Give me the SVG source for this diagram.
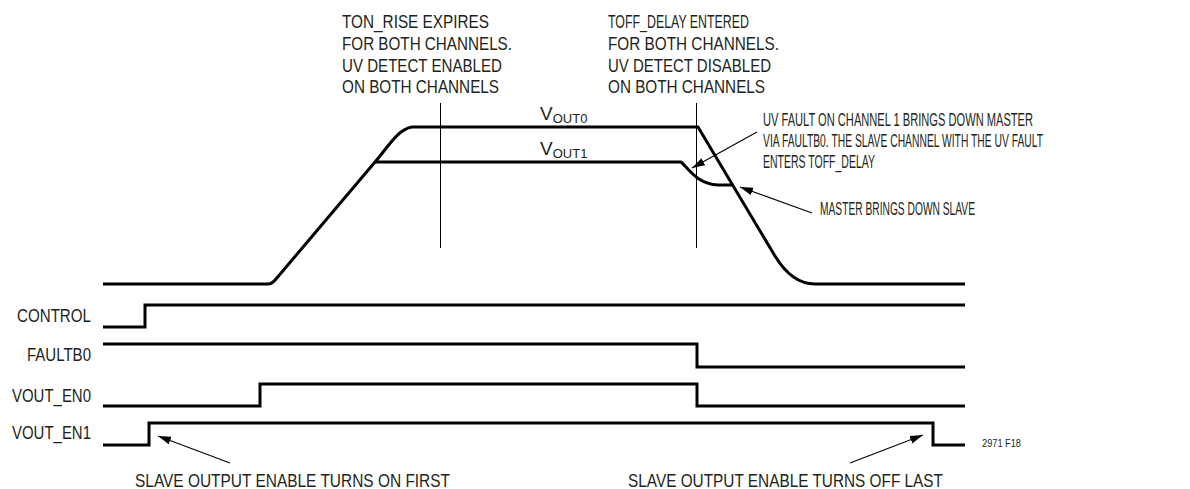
<svg xmlns="http://www.w3.org/2000/svg" width="1190" height="489" viewBox="0 0 1190 489">
<style>
text{font-family:"Liberation Sans",Arial,sans-serif;font-size:18px;fill:#231f20}
.wave{fill:none;stroke:#000;stroke-width:3;stroke-linejoin:miter}
.mark{fill:none;stroke:#000;stroke-width:1}
.arr{fill:none;stroke:#000;stroke-width:1.1;marker-end:url(#ah)}
.lbl{text-anchor:end}
.sub{font-size:13px}
.big{font-size:19px}
.small{font-size:10px}
</style>
<defs>
<marker id="ah" markerUnits="userSpaceOnUse" markerWidth="14" markerHeight="10" refX="13" refY="4" orient="auto">
<path d="M0,0 L13,4 L0,8 Z" fill="#000"/>
</marker>
</defs>
<rect width="1190" height="489" fill="#fff"/>
<g id="connectors">
<line class="mark" x1="440.5" y1="103" x2="440.5" y2="248"/>
<line class="mark" x1="696.5" y1="103" x2="696.5" y2="248"/>
<line class="arr" x1="757" y1="132" x2="692" y2="168"/>
<line class="arr" x1="812" y1="213" x2="740" y2="187"/>
<line class="arr" x1="230" y1="463" x2="158" y2="436"/>
<line class="arr" x1="850" y1="463" x2="923" y2="435"/>
</g>
<g id="vout0">
<path class="wave" d="M103,284 L268,284 Q272,284 276,279 L375,162 C388,147 398,129 412,127 L698,127 L775,256 Q792,284 815,284 L965,284"/>
<text class="big" x="540" y="120">V<tspan class="sub" dy="3">OUT0</tspan></text>
</g>
<g id="vout1">
<path class="wave" d="M375,162 L681,162 C689,169 697,184 718,185 L733,185"/>
<text class="big" x="540" y="155">V<tspan class="sub" dy="3">OUT1</tspan></text>
</g>
<g id="control">
<path class="wave" d="M103,327 L145,327 L145,305 L965,305"/>
<text class="lbl" x="91" y="322" textLength="74" lengthAdjust="spacingAndGlyphs">CONTROL</text>
</g>
<g id="faultb0">
<path class="wave" d="M103,344 L697,344 L697,367 L965,367"/>
<text class="lbl" x="91" y="361" textLength="64" lengthAdjust="spacingAndGlyphs">FAULTB0</text>
</g>
<g id="vout_en0">
<path class="wave" d="M103,406 L260,406 L260,384 L697,384 L697,406 L965,406"/>
<text class="lbl" x="91" y="402" textLength="79" lengthAdjust="spacingAndGlyphs">VOUT_EN0</text>
</g>
<g id="vout_en1">
<path class="wave" d="M103,445 L149,445 L149,423 L933,423 L933,445 L965,445"/>
<text class="lbl" x="91" y="439" textLength="79" lengthAdjust="spacingAndGlyphs">VOUT_EN1</text>
</g>
<g id="note-ton-rise">
<text x="342" y="28" textLength="147" lengthAdjust="spacingAndGlyphs">TON_RISE EXPIRES</text>
<text x="342" y="50" textLength="170" lengthAdjust="spacingAndGlyphs">FOR BOTH CHANNELS.</text>
<text x="342" y="72" textLength="160" lengthAdjust="spacingAndGlyphs">UV DETECT ENABLED</text>
<text x="342" y="93" textLength="157" lengthAdjust="spacingAndGlyphs">ON BOTH CHANNELS</text>
</g>
<g id="note-toff-delay">
<text x="608" y="28" textLength="141" lengthAdjust="spacingAndGlyphs">TOFF_DELAY ENTERED</text>
<text x="608" y="50" textLength="171" lengthAdjust="spacingAndGlyphs">FOR BOTH CHANNELS.</text>
<text x="608" y="72" textLength="163" lengthAdjust="spacingAndGlyphs">UV DETECT DISABLED</text>
<text x="608" y="93" textLength="157" lengthAdjust="spacingAndGlyphs">ON BOTH CHANNELS</text>
</g>
<g id="note-uv-fault" transform="translate(763,0) scale(0.6,1)">
<text x="0" y="126" textLength="450" lengthAdjust="spacingAndGlyphs">UV FAULT ON CHANNEL 1 BRINGS DOWN MASTER</text>
<text x="0" y="147" textLength="466.7" lengthAdjust="spacingAndGlyphs">VIA FAULTB0. THE SLAVE CHANNEL WITH THE UV FAULT</text>
<text x="0" y="168" textLength="186.7" lengthAdjust="spacingAndGlyphs">ENTERS TOFF_DELAY</text>
</g>
<g id="note-master">
<text x="820" y="215" textLength="155" lengthAdjust="spacingAndGlyphs">MASTER BRINGS DOWN SLAVE</text>
</g>
<g id="note-on-first">
<text x="135" y="487" textLength="315" lengthAdjust="spacingAndGlyphs">SLAVE OUTPUT ENABLE TURNS ON FIRST</text>
</g>
<g id="note-off-last">
<text x="628" y="487" textLength="315" lengthAdjust="spacingAndGlyphs">SLAVE OUTPUT ENABLE TURNS OFF LAST</text>
</g>
<g id="figure-id">
<text class="small" x="982" y="447" textLength="39" lengthAdjust="spacingAndGlyphs">2971 F18</text>
</g>
</svg>
